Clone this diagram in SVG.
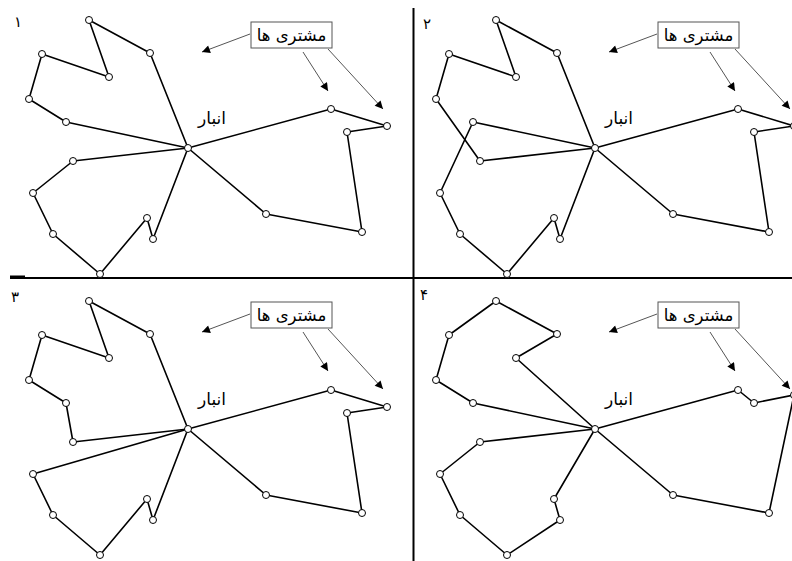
<svg xmlns="http://www.w3.org/2000/svg" width="792" height="561" viewBox="0 0 792 561">
<style>
.rt{fill:none;stroke:#000;stroke-width:1.6;stroke-linejoin:round}
.nd{fill:#fff;stroke:#000;stroke-width:1}
.ar{stroke:#555;stroke-width:1;fill:none;marker-end:url(#ah)}
.bx{fill:#fff;stroke:#555;stroke-width:1}
.lb{font-family:"DejaVu Sans",sans-serif;font-size:16.5px;fill:#000;text-anchor:middle}
.dp{font-family:"DejaVu Sans",sans-serif;font-size:17px;fill:#000;text-anchor:middle}
.num{font-family:"DejaVu Sans",sans-serif;font-size:15px;fill:#000;text-anchor:middle}
.dv{stroke:#000;stroke-width:2}
</style>
<defs>
<marker id="ah" viewBox="0 0 10 10" refX="10" refY="5" markerWidth="9" markerHeight="8" markerUnits="userSpaceOnUse" orient="auto"><path d="M0,0 L10,5 L0,10 z" fill="#000"/></marker>
<circle id="c" r="3.5"/>
</defs>
<rect width="792" height="561" fill="#fff"/>
<g id="dividers">
<line class="dv" x1="413.5" y1="8" x2="413.5" y2="561"/>
<line class="dv" x1="10" y1="278" x2="792" y2="278"/>
<line x1="10" y1="277" x2="25" y2="277" stroke="#000" stroke-width="3"/>
</g>
<g id="connectors">
<polyline class="rt" points="188,148 150,53 89,20 109,77 42,54 29,99 66,122 188,148"/>
<polyline class="rt" points="188,148 331,109 387,126 347,132 362,232 266,214 188,148"/>
<polyline class="rt" points="188,148 73,161 33,193 53,234 100,274 147,218 153,239 188,148"/>
<polyline class="rt" points="595,148 557,53 496,20 516,77 449,54 436,99 480,161 595,148"/>
<polyline class="rt" points="595,148 473,122 440,193 460,234 507,274 554,218 560,239 595,148"/>
<polyline class="rt" points="595,148 738,109 794,126 754,132 769,232 673,214 595,148"/>
<polyline class="rt" points="188,429 150,334 89,301 109,358 42,335 29,380 66,403 73,442 188,429"/>
<polyline class="rt" points="188,429 331,390 387,407 347,413 362,513 266,495 188,429"/>
<polyline class="rt" points="188,429 33,474 53,515 100,555 147,499 153,520 188,429"/>
<polyline class="rt" points="595,429 516,358 557,334 496,301 449,335 436,380 473,403 595,429"/>
<polyline class="rt" points="595,429 480,442 440,474 460,515 507,555 560,520 554,499 595,429"/>
<polyline class="rt" points="595,429 738,390 754,403 794,395 769,513 673,495 595,429"/>
<line class="ar" x1="250" y1="34" x2="202" y2="52"/>
<line class="ar" x1="303" y1="52" x2="328" y2="91"/>
<line class="ar" x1="328" y1="49" x2="383" y2="109"/>
<line class="ar" x1="657" y1="34" x2="609" y2="52"/>
<line class="ar" x1="710" y1="52" x2="735" y2="91"/>
<line class="ar" x1="735" y1="49" x2="790" y2="109"/>
<line class="ar" x1="250" y1="314" x2="202" y2="332"/>
<line class="ar" x1="303" y1="332" x2="328" y2="371"/>
<line class="ar" x1="328" y1="329" x2="383" y2="389"/>
<line class="ar" x1="657" y1="314" x2="609" y2="332"/>
<line class="ar" x1="710" y1="332" x2="735" y2="371"/>
<line class="ar" x1="735" y1="329" x2="790" y2="389"/>
</g>
<g id="panel1">
<g id="p1-depot"><use href="#c" x="188" y="148" class="nd"/><text class="dp" x="212" y="124">انبار</text></g>
<g id="p1-nodes" class="nd">
<use href="#c" x="89" y="20"/><use href="#c" x="150" y="53"/><use href="#c" x="109" y="77"/><use href="#c" x="42" y="54"/><use href="#c" x="29" y="99"/><use href="#c" x="66" y="122"/>
<use href="#c" x="331" y="109"/><use href="#c" x="387" y="126"/><use href="#c" x="347" y="132"/><use href="#c" x="362" y="232"/><use href="#c" x="266" y="214"/>
<use href="#c" x="73" y="161"/><use href="#c" x="33" y="193"/><use href="#c" x="53" y="234"/><use href="#c" x="100" y="274"/><use href="#c" x="147" y="218"/><use href="#c" x="153" y="239"/>
</g>
<g id="p1-label"><rect class="bx" x="251" y="22" width="81" height="26"/><text class="lb" x="291.5" y="41">مشتری ها</text></g>
<text class="num" x="18" y="27">۱</text>
</g>
<g id="panel2">
<g id="p2-depot"><use href="#c" x="595" y="148" class="nd"/><text class="dp" x="619" y="124">انبار</text></g>
<g id="p2-nodes" class="nd">
<use href="#c" x="496" y="20"/><use href="#c" x="557" y="53"/><use href="#c" x="516" y="77"/><use href="#c" x="449" y="54"/><use href="#c" x="436" y="99"/><use href="#c" x="473" y="122"/>
<use href="#c" x="738" y="109"/><use href="#c" x="794" y="126"/><use href="#c" x="754" y="132"/><use href="#c" x="769" y="232"/><use href="#c" x="673" y="214"/>
<use href="#c" x="480" y="161"/><use href="#c" x="440" y="193"/><use href="#c" x="460" y="234"/><use href="#c" x="507" y="274"/><use href="#c" x="554" y="218"/><use href="#c" x="560" y="239"/>
</g>
<g id="p2-label"><rect class="bx" x="658" y="22" width="81" height="26"/><text class="lb" x="698.5" y="41">مشتری ها</text></g>
<text class="num" x="427" y="29">۲</text>
</g>
<g id="panel3">
<g id="p3-depot"><use href="#c" x="188" y="429" class="nd"/><text class="dp" x="212" y="405">انبار</text></g>
<g id="p3-nodes" class="nd">
<use href="#c" x="89" y="301"/><use href="#c" x="150" y="334"/><use href="#c" x="109" y="358"/><use href="#c" x="42" y="335"/><use href="#c" x="29" y="380"/><use href="#c" x="66" y="403"/><use href="#c" x="73" y="442"/>
<use href="#c" x="331" y="390"/><use href="#c" x="387" y="407"/><use href="#c" x="347" y="413"/><use href="#c" x="362" y="513"/><use href="#c" x="266" y="495"/>
<use href="#c" x="33" y="474"/><use href="#c" x="53" y="515"/><use href="#c" x="100" y="555"/><use href="#c" x="147" y="499"/><use href="#c" x="153" y="520"/>
</g>
<g id="p3-label"><rect class="bx" x="251" y="302" width="81" height="26"/><text class="lb" x="291.5" y="321">مشتری ها</text></g>
<text class="num" x="15" y="302">۳</text>
</g>
<g id="panel4">
<g id="p4-depot"><use href="#c" x="595" y="429" class="nd"/><text class="dp" x="619" y="405">انبار</text></g>
<g id="p4-nodes" class="nd">
<use href="#c" x="496" y="301"/><use href="#c" x="557" y="334"/><use href="#c" x="516" y="358"/><use href="#c" x="449" y="335"/><use href="#c" x="436" y="380"/><use href="#c" x="473" y="403"/>
<use href="#c" x="738" y="390"/><use href="#c" x="794" y="395"/><use href="#c" x="754" y="403"/><use href="#c" x="769" y="513"/><use href="#c" x="673" y="495"/>
<use href="#c" x="480" y="442"/><use href="#c" x="440" y="474"/><use href="#c" x="460" y="515"/><use href="#c" x="507" y="555"/><use href="#c" x="554" y="499"/><use href="#c" x="560" y="520"/>
</g>
<g id="p4-label"><rect class="bx" x="658" y="302" width="81" height="26"/><text class="lb" x="698.5" y="321">مشتری ها</text></g>
<text class="num" x="424" y="300">۴</text>
</g>
</svg>
